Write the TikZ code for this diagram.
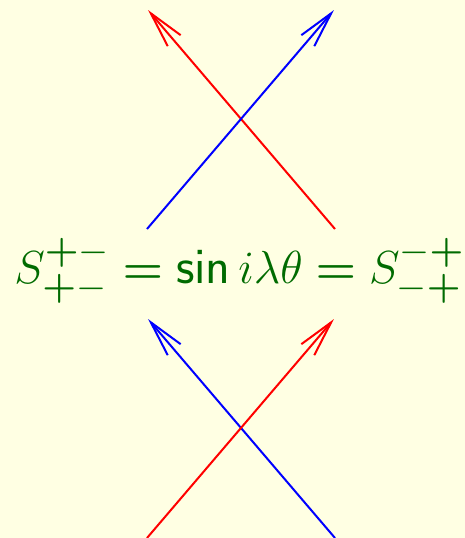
\documentclass[tikz,border=0pt]{standalone}
\usepackage{amsmath}
\usetikzlibrary{arrows.meta, positioning}
\definecolor{paper}{HTML}{FFFFE3}
\definecolor{eqgreen}{HTML}{006B00}
\DeclareMathSizes{27.5}{27.5}{21}{15}

\begin{document}
\begin{tikzpicture}[
    x=0.5pt, y=-0.5pt,
    lineRed/.style={red, line width=1pt, -{Straight Barb[length=18pt, width=8.5pt, line width=1pt]}}, % red world line
    lineBlue/.style={blue, line width=1pt, -{Straight Barb[length=18pt, width=8.5pt, line width=1pt]}}, % blue world line
    eqText/.style={text=eqgreen, font=\fontsize{27.5}{32}\selectfont, inner sep=0pt}, % green formula
]
    % 0. background
    \fill[paper] (0,0) rectangle (465,538);
    \useasboundingbox (0,0) rectangle (465,538);

    % 1. end points of the lines
    \coordinate (tA) at (147,229);
    \coordinate (tB) at (335,229);
    \coordinate (tC) at (148,10);
    \coordinate (tD) at (334,10);
    \coordinate (bA) at (147,538);
    \coordinate (bB) at (335,538);
    \coordinate (bC) at (148,319);
    \coordinate (bD) at (334,319);

    % 2. upper crossing
    \draw[lineRed] (tB) -- (tC);
    \draw[lineBlue] (tA) -- (tD);

    % 3. lower crossing
    \draw[lineBlue] (bB) -- (bC);
    \draw[lineRed] (bA) -- (bD);

    % 4. formula in the middle
    \node[eqText, anchor=west] (eq) at (14,271) {\resizebox{225pt}{!}{$S^{\boldsymbol{+}-}_{\boldsymbol{+}-} \boldsymbol{=} \textsf{sin}\, i\lambda\theta \boldsymbol{=} S^{-\boldsymbol{+}}_{-\boldsymbol{+}}$}};
\end{tikzpicture}
\end{document}
